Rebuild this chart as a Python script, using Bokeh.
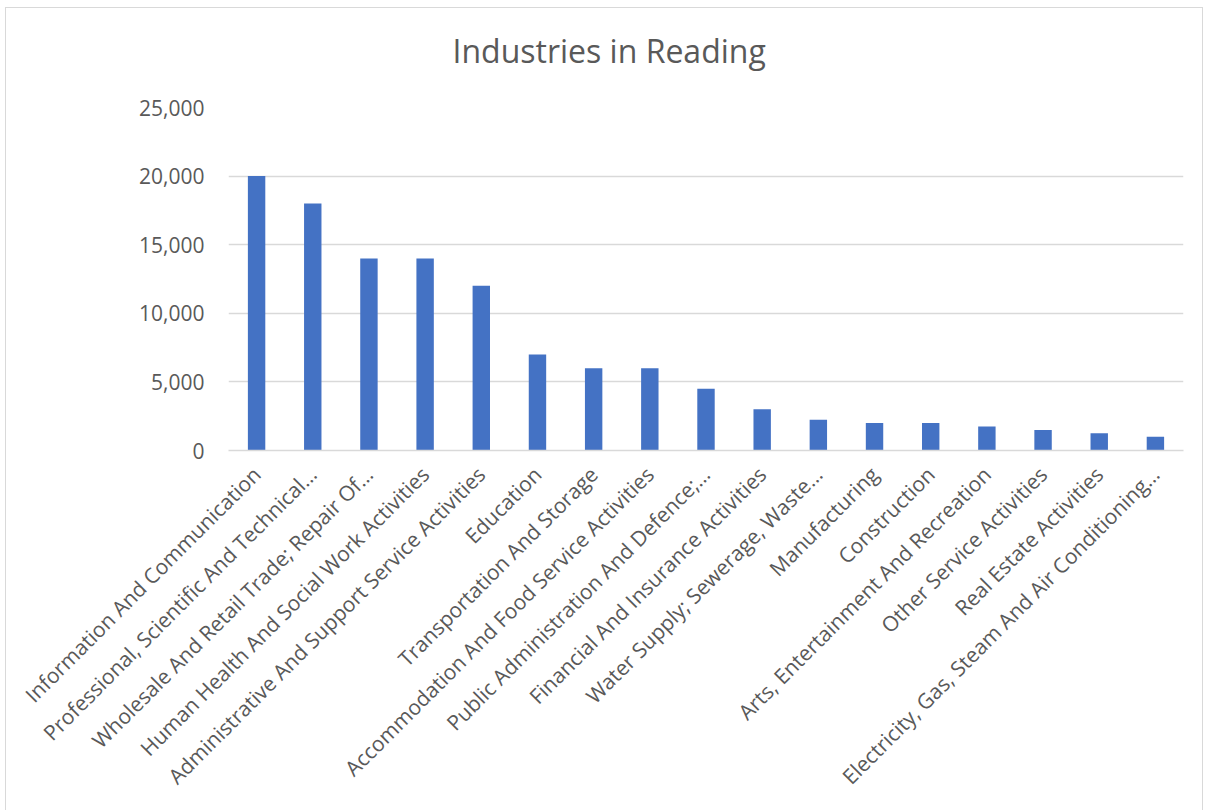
import math
from bokeh.plotting import figure
from bokeh.models import ColumnDataSource, Range1d, SingleIntervalTicker, NumeralTickFormatter, Title
from bokeh.embed import file_html
from bokeh.resources import INLINE

categories = [
    "Information And Communication",
    "Professional, Scientific And Technical…",
    "Wholesale And Retail Trade; Repair Of…",
    "Human Health And Social Work Activities",
    "Administrative And Support Service Activities",
    "Education",
    "Transportation And Storage",
    "Accommodation And Food Service Activities",
    "Public Administration And Defence;…",
    "Financial And Insurance Activities",
    "Water Supply; Sewerage, Waste…",
    "Manufacturing",
    "Construction",
    "Arts, Entertainment And Recreation",
    "Other Service Activities",
    "Real Estate Activities",
    "Electricity, Gas, Steam And Air Conditioning…",
]
values = [20000, 18000, 14000, 14000, 12000, 7000, 6000, 6000, 4500, 3000,
          2250, 2000, 2000, 1750, 1500, 1250, 1000]
title_text = "Industries in Reading"

TXT = "#595959"
FONT = "Open Sans"

src = ColumnDataSource(dict(cat=categories, val=values))

p = figure(x_range=categories, y_range=Range1d(0, 25000), width=1198, height=810,
           output_backend="svg", toolbar_location=None, title=title_text,
           min_border_left=222, min_border_right=21, min_border_top=99, min_border_bottom=368)
p.margin = (7, 0, 0, 5)
p.styles = {"border": "1px solid #D9D9D9"}

p.vbar(x="cat", top="val", width=0.31, source=src, fill_color="#4472C4", line_color=None)

p.title.text_font = FONT
p.title.text_font_size = "32px"
p.title.text_font_style = "normal"
p.title.text_color = TXT
p.title.align = "left"
p.title.offset = 224
p.title.standoff = 36

# thin spacer between title and plot area
spacer = Title(text=" ", text_font_size="1px", standoff=15, text_color="white")
p.add_layout(spacer, "above")

p.outline_line_color = None
p.background_fill_color = "white"
p.border_fill_color = "white"

p.xgrid.grid_line_color = None
p.ygrid.grid_line_color = "#D9D9D9"
p.ygrid.grid_line_width = 1.3

p.yaxis.ticker = SingleIntervalTicker(interval=5000)
p.yaxis.formatter = NumeralTickFormatter(format="0,0")
p.yaxis.axis_line_color = None
p.yaxis.major_tick_line_color = None
p.yaxis.minor_tick_line_color = None
p.yaxis.major_label_text_font = FONT
p.yaxis.major_label_text_font_size = "21px"
p.yaxis.major_label_text_color = TXT
p.yaxis.major_label_standoff = 18

p.xaxis.axis_line_color = "#D9D9D9"
p.xaxis.axis_line_width = 1.3
p.xaxis.major_tick_line_color = None
p.xaxis.minor_tick_line_color = None
p.xaxis.major_label_orientation = math.pi / 4
p.xaxis.major_label_text_font = FONT
p.xaxis.major_label_text_font_size = "21px"
p.xaxis.major_label_text_color = TXT
p.xaxis.major_label_standoff = 14

p.x_range.range_padding = 0.0

open("out.html", "w").write(file_html(p, INLINE))
